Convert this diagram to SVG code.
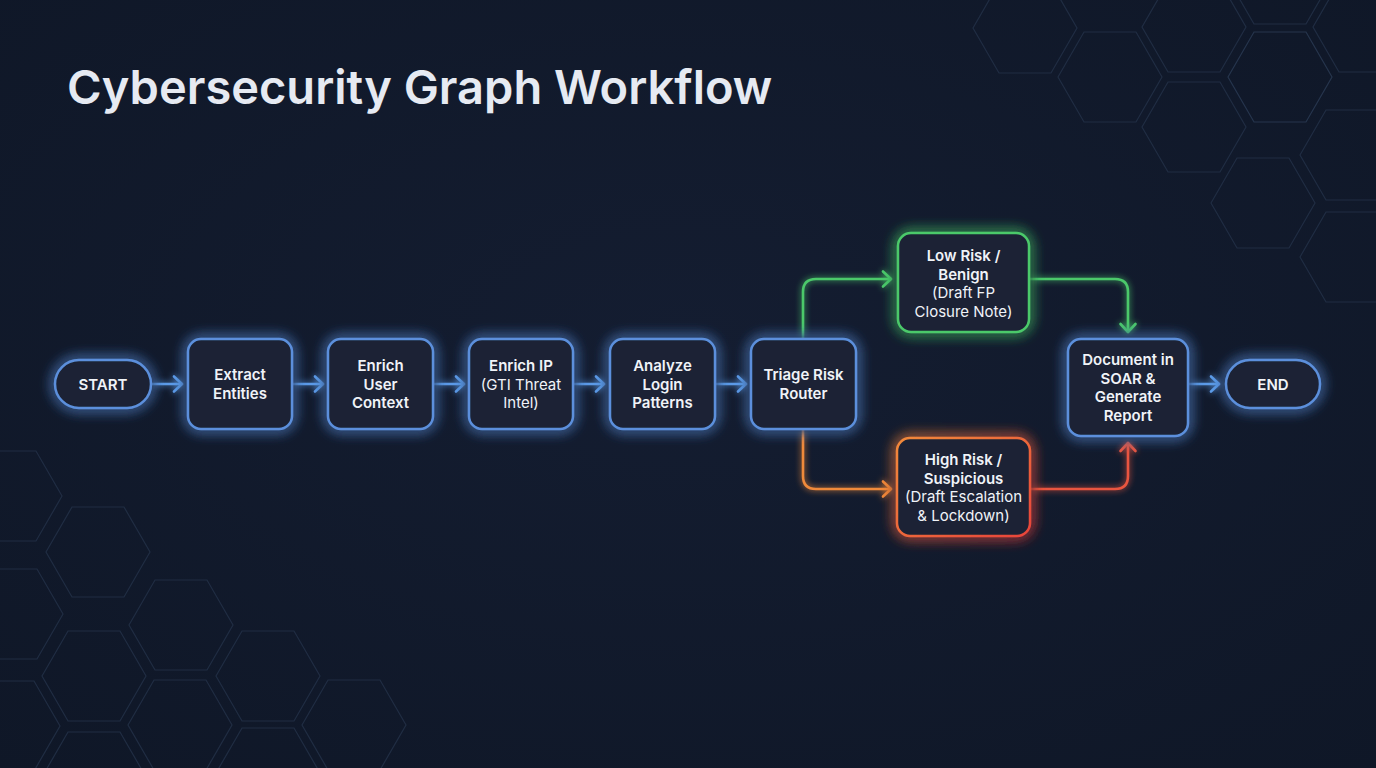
<svg xmlns="http://www.w3.org/2000/svg" xmlns:xlink="http://www.w3.org/1999/xlink" width="1376" height="768" viewBox="0 0 1376 768">
<style>
.t{font-family:Inter,"Liberation Sans",sans-serif;font-size:15px;font-weight:600;fill:#f0f3f8;text-anchor:middle}
.l{font-weight:400}
.title{font-family:Inter,"Liberation Sans",sans-serif;font-size:47px;font-weight:600;fill:#e6eaf2}
.box{fill:#1b2435;stroke-width:2.5}
.blue{stroke:#5b8fdc}
.green{stroke:#4cc96b}
.conn{fill:none;stroke-width:2.6;stroke-linecap:round;stroke-linejoin:round}
.hex{fill:none;stroke:#202d43;stroke-width:1.2}
</style>
<defs>
<radialGradient id="bg" cx="50%" cy="45%" r="75%">
<stop offset="0" stop-color="#141d31"/>
<stop offset="1" stop-color="#0f1727"/>
</radialGradient>
<linearGradient id="hiGrad" x1="0" y1="0" x2="1" y2="1">
<stop offset="0" stop-color="#f28a3a"/>
<stop offset="1" stop-color="#e8443a"/>
</linearGradient>
<filter id="glow" x="-40%" y="-40%" width="180%" height="180%">
<feGaussianBlur in="SourceGraphic" stdDeviation="7" result="b"/>
<feMerge><feMergeNode in="b"/><feMergeNode in="b"/><feMergeNode in="SourceGraphic"/></feMerge>
</filter>
<filter id="lglow" x="-20%" y="-20%" width="140%" height="140%">
<feGaussianBlur in="SourceGraphic" stdDeviation="3" result="b"/>
<feMerge><feMergeNode in="b"/><feMergeNode in="SourceGraphic"/></feMerge>
</filter>
<polygon id="hx" points="-52,0 -26,-45 26,-45 52,0 26,45 -26,45"/>
<marker id="aB" markerUnits="userSpaceOnUse" markerWidth="20" markerHeight="20" viewBox="-12 -10 14 20" refX="0" refY="0" orient="auto"><path d="M-8,-7.5 L0,0 L-8,7.5" fill="none" stroke="#5b9be8" stroke-width="2.6" stroke-linecap="round" stroke-linejoin="round"/></marker>
<marker id="aG" markerUnits="userSpaceOnUse" markerWidth="20" markerHeight="20" viewBox="-12 -10 14 20" refX="0" refY="0" orient="auto"><path d="M-8,-7.5 L0,0 L-8,7.5" fill="none" stroke="#4cc96b" stroke-width="2.6" stroke-linecap="round" stroke-linejoin="round"/></marker>
<marker id="aO" markerUnits="userSpaceOnUse" markerWidth="20" markerHeight="20" viewBox="-12 -10 14 20" refX="0" refY="0" orient="auto"><path d="M-8,-7.5 L0,0 L-8,7.5" fill="none" stroke="#f08a3b" stroke-width="2.6" stroke-linecap="round" stroke-linejoin="round"/></marker>
<marker id="aR" markerUnits="userSpaceOnUse" markerWidth="20" markerHeight="20" viewBox="-12 -10 14 20" refX="0" refY="0" orient="auto"><path d="M-8,-7.5 L0,0 L-8,7.5" fill="none" stroke="#e9553f" stroke-width="2.6" stroke-linecap="round" stroke-linejoin="round"/></marker>
</defs>
<rect width="1376" height="768" fill="url(#bg)"/>
<g id="hexes">
<use xlink:href="#hx" class="hex" x="1025" y="28"/>
<use xlink:href="#hx" class="hex" x="1110" y="77"/>
<use xlink:href="#hx" class="hex" x="1194" y="27"/>
<use xlink:href="#hx" class="hex" x="1194" y="127"/>
<use xlink:href="#hx" class="hex" x="1280" y="77" style="stroke:#26354d"/>
<use xlink:href="#hx" class="hex" x="1280" y="-21"/>
<use xlink:href="#hx" class="hex" x="1365" y="27"/>
<use xlink:href="#hx" class="hex" x="1352" y="155"/>
<use xlink:href="#hx" class="hex" x="1263" y="203"/>
<use xlink:href="#hx" class="hex" x="1352" y="257"/>
<use xlink:href="#hx" class="hex" x="10" y="496"/>
<use xlink:href="#hx" class="hex" x="98" y="552"/>
<use xlink:href="#hx" class="hex" x="11" y="614"/>
<use xlink:href="#hx" class="hex" x="94" y="676"/>
<use xlink:href="#hx" class="hex" x="181" y="625"/>
<use xlink:href="#hx" class="hex" x="8" y="726"/>
<use xlink:href="#hx" class="hex" x="94" y="777"/>
<use xlink:href="#hx" class="hex" x="180" y="725"/>
<use xlink:href="#hx" class="hex" x="268" y="676"/>
<use xlink:href="#hx" class="hex" x="354" y="725"/>
<use xlink:href="#hx" class="hex" x="268" y="773"/>
</g>
<text class="title" x="67" y="104">Cybersecurity Graph Workflow</text>
<g id="connectors" filter="url(#lglow)">
<path class="conn" stroke="#5b9be8" marker-end="url(#aB)" d="M152,384 H182"/>
<path class="conn" stroke="#5b9be8" marker-end="url(#aB)" d="M293,384 H323"/>
<path class="conn" stroke="#5b9be8" marker-end="url(#aB)" d="M434,384 H464"/>
<path class="conn" stroke="#5b9be8" marker-end="url(#aB)" d="M574,384 H604"/>
<path class="conn" stroke="#5b9be8" marker-end="url(#aB)" d="M716,384 H746"/>
<path class="conn" stroke="#4cc96b" marker-end="url(#aG)" d="M803,338 V292 Q803,279 816,279 H891"/>
<path class="conn" stroke="#4cc96b" marker-end="url(#aG)" d="M1030,279 H1115 Q1128,279 1128,292 V332"/>
<path class="conn" stroke="#f08a3b" marker-end="url(#aO)" d="M803,430 V476 Q803,489 816,489 H891"/>
<path class="conn" stroke="#e9553f" marker-end="url(#aR)" d="M1031,489 H1115 Q1128,489 1128,476 V443"/>
<path class="conn" stroke="#5b9be8" marker-end="url(#aB)" d="M1189,384 H1219"/>
</g>
<g id="start">
<rect class="box blue" x="55" y="360" width="96" height="48" rx="24" filter="url(#glow)"/>
<text class="t" x="103" y="389.5">START</text>
</g>
<g id="extract">
<rect class="box blue" x="188" y="339" width="104" height="90" rx="13" filter="url(#glow)"/>
<text class="t" x="240" y="380.3">Extract</text>
<text class="t" x="240" y="398.8">Entities</text>
</g>
<g id="enrich-user">
<rect class="box blue" x="328" y="339" width="105" height="90" rx="13" filter="url(#glow)"/>
<text class="t" x="380.5" y="371">Enrich</text>
<text class="t" x="380.5" y="389.5">User</text>
<text class="t" x="380.5" y="408">Context</text>
</g>
<g id="enrich-ip">
<rect class="box blue" x="469" y="339" width="104" height="90" rx="13" filter="url(#glow)"/>
<text class="t" x="521" y="371">Enrich IP</text>
<text class="t l" x="521" y="389.5">(GTI Threat</text>
<text class="t l" x="521" y="408">Intel)</text>
</g>
<g id="analyze">
<rect class="box blue" x="610" y="339" width="105" height="90" rx="13" filter="url(#glow)"/>
<text class="t" x="662.5" y="371">Analyze</text>
<text class="t" x="662.5" y="389.5">Login</text>
<text class="t" x="662.5" y="408">Patterns</text>
</g>
<g id="triage">
<rect class="box blue" x="751" y="339" width="105" height="90" rx="13" filter="url(#glow)"/>
<text class="t" x="803.5" y="380.3">Triage Risk</text>
<text class="t" x="803.5" y="398.8">Router</text>
</g>
<g id="low-risk">
<rect class="box green" x="898" y="233" width="131" height="99" rx="13" filter="url(#glow)"/>
<text class="t" x="963.5" y="261">Low Risk /</text>
<text class="t" x="963.5" y="279.5">Benign</text>
<text class="t l" x="963.5" y="298">(Draft FP</text>
<text class="t l" x="963.5" y="316.5">Closure Note)</text>
</g>
<g id="high-risk">
<rect class="box" stroke="url(#hiGrad)" x="897" y="438" width="133" height="98" rx="13" filter="url(#glow)"/>
<text class="t" x="963.5" y="465">High Risk /</text>
<text class="t" x="963.5" y="483.5">Suspicious</text>
<text class="t l" x="963.5" y="502">(Draft Escalation</text>
<text class="t l" x="963.5" y="520.5">&amp; Lockdown)</text>
</g>
<g id="document">
<rect class="box blue" x="1068" y="339" width="120" height="97" rx="13" filter="url(#glow)"/>
<text class="t" x="1128" y="365">Document in</text>
<text class="t" x="1128" y="383.5">SOAR &amp;</text>
<text class="t" x="1128" y="402">Generate</text>
<text class="t" x="1128" y="420.5">Report</text>
</g>
<g id="end">
<rect class="box blue" x="1226" y="360" width="94" height="48" rx="24" filter="url(#glow)"/>
<text class="t" x="1273" y="389.5">END</text>
</g>
</svg>
